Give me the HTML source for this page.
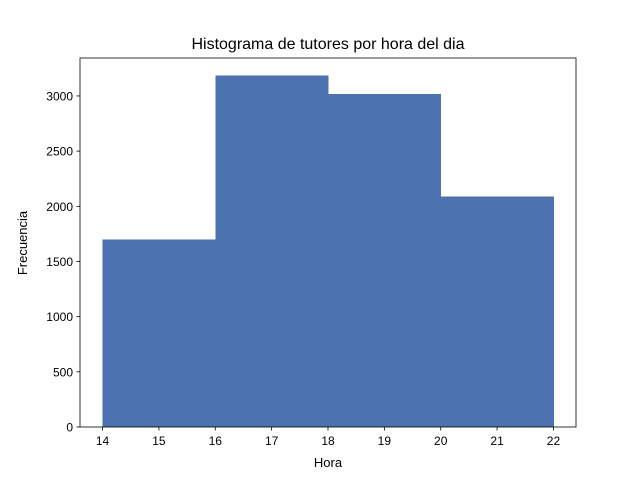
<!DOCTYPE html>
<html><head><meta charset="utf-8"><style>body{margin:0;background:#fff}svg text{font-family:"Liberation Sans","DejaVu Sans",sans-serif}</style></head>
<body>
<svg id="chart" width="640" height="480">
<rect width="640" height="480" fill="#fff"/>
<g id="bars" shape-rendering="crispEdges"></g>
<g id="axes"></g>
<text x="328" y="49" text-anchor="middle" font-size="16">Histograma de tutores por hora del dia</text>
<text x="328" y="467" text-anchor="middle" font-size="13">Hora</text>
<text transform="translate(27,243) rotate(-90)" text-anchor="middle" font-size="13">Frecuencia</text>
</svg>
<script>
const binEdges = [14, 16, 18, 20, 22];
const counts = [1700, 3185, 3020, 2090];
const xTicks = [14, 15, 16, 17, 18, 19, 20, 21, 22];
const yTicks = [0, 500, 1000, 1500, 2000, 2500, 3000];
const L=80,R=576,T=58,B=427,xmin=13.6,xmax=22.4,ymax=3344;
const sx=v=>L+(v-xmin)/(xmax-xmin)*(R-L);
const sy=v=>B-v/ymax*(B-T);
const NS="http://www.w3.org/2000/svg";
function mk(tag,attrs,parent){const e=document.createElementNS(NS,tag);for(const k in attrs)e.setAttribute(k,attrs[k]);parent.appendChild(e);return e;}
const bars=document.getElementById('bars'),axes=document.getElementById('axes');
counts.forEach((c,i)=>{
 const r=mk('rect',{x:sx(binEdges[i]),y:sy(c),width:sx(binEdges[i+1])-sx(binEdges[i])+0.5,height:B-sy(c),fill:'#4c72b0'},bars);
 
 
});
const f=mk('rect',{x:L,y:T,width:R-L,height:B-T,fill:'none',stroke:'#000','stroke-width':0.8},axes);


xTicks.forEach(t=>{
 const x=sx(t);
 mk('line',{x1:x,x2:x,y1:B,y2:B+3.5,stroke:'#000','stroke-width':0.8},axes);
 const tx=mk('text',{x:x,y:B+18,'text-anchor':'middle','font-size':12},axes);
 tx.textContent=t;
 
 
});
yTicks.forEach(t=>{
 const y=sy(t);
 mk('line',{x1:L-3.5,x2:L,y1:y,y2:y,stroke:'#000','stroke-width':0.8},axes);
 const tx=mk('text',{x:L-7,y:y+4.5,'text-anchor':'end','font-size':12},axes);
 tx.textContent=t;
 
 
});
</script>
</body></html>
